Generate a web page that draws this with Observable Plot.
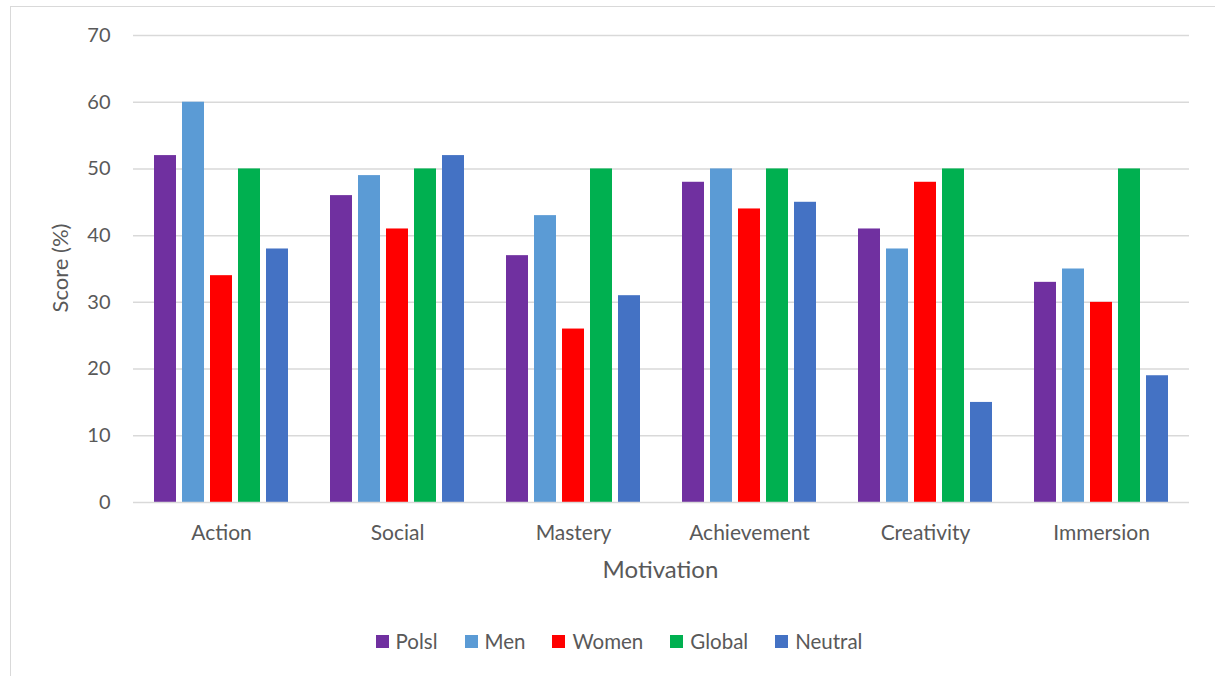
<!DOCTYPE html>
<html>
<head>
<meta charset="utf-8">
<script src="https://cdn.jsdelivr.net/npm/d3@7"></script>
<script src="https://cdn.jsdelivr.net/npm/@observablehq/plot@0.6"></script>
<style>
  html, body { margin: 0; padding: 0; background: #fff; overflow: hidden; }
  #wrap { position: relative; width: 1215px; height: 676px; font-family: Lato, "Open Sans", sans-serif; }
  #frame { position: absolute; left: 10px; top: 6px; width: 1300px; height: 800px; border: 1.5px solid #d9d9d9; box-sizing: border-box; }
  #chart { position: absolute; left: 0; top: 0; }
  #legend { position: absolute; top: 629px; left: 0; width: 1238px; display: flex; justify-content: center; gap: 27px; font-size: 20.5px; color: #595959; }
  #legend .item { display: flex; align-items: center; gap: 7px; }
  #legend .sw { width: 13px; height: 13px; display: inline-block; }
</style>
</head>
<body>
<div id="wrap">
  <div id="frame"></div>
  <div id="chart"></div>
  <div id="legend"></div>
</div>
<script>
const categories = ["Action", "Social", "Mastery", "Achievement", "Creativity", "Immersion"];
const seriesNames = ["Polsl", "Men", "Women", "Global", "Neutral"];
const polsl   = [52, 46, 37, 48, 41, 33];
const men     = [60, 49, 43, 50, 38, 35];
const women   = [34, 41, 26, 44, 48, 30];
const global  = [50, 50, 50, 50, 50, 50];
const neutral = [38, 52, 31, 45, 15, 19];
const yTicks = [0, 10, 20, 30, 40, 50, 60, 70];
const colors = ["#7030A0", "#5B9BD5", "#FF0000", "#00B050", "#4472C4"];

const seriesValues = [polsl, men, women, global, neutral];
const data = [];
categories.forEach((c, i) => {
  seriesNames.forEach((s, j) => {
    data.push({motivation: c, series: s, value: seriesValues[j][i]});
  });
});

const chart = Plot.plot({
  width: 1215,
  height: 600,
  marginLeft: 130,
  marginRight: 24,
  marginTop: 35,
  marginBottom: 98,
  style: {fontFamily: "Lato, 'Open Sans', sans-serif", fontSize: "21px", color: "#595959", background: "transparent"},
  fx: {domain: categories, padding: 0, label: null, axis: "bottom", tickSize: 0, tickPadding: 23},
  x: {domain: seriesNames, paddingInner: 0.2, paddingOuter: 0.74, axis: null},
  y: {domain: [0, 70], ticks: yTicks, label: null, axis: null},
  color: {domain: seriesNames, range: colors},
  marks: [
    Plot.ruleY(yTicks.filter(d => d > 0), {stroke: "#d9d9d9", strokeWidth: 1.5}),
    Plot.barY(data, {fx: "motivation", x: "series", y: "value", fill: "series"}),
    Plot.ruleY([0], {stroke: "#d9d9d9", strokeWidth: 1.5}),
    Plot.axisY(yTicks, {tickSize: 0, tickPadding: 23, fontSize: 20, fill: "#595959", label: null})
  ]
});
document.getElementById("chart").appendChild(chart);

// axis titles as SVG text
const svg = d3.select(chart);
svg.append("text")
  .attr("x", (130 + 1191) / 2).attr("y", 572)
  .attr("text-anchor", "middle").attr("dominant-baseline", "middle")
  .attr("font-size", 24).attr("fill", "#595959")
  .text("Motivation");
svg.append("text")
  .attr("transform", "translate(62,268) rotate(-90)")
  .attr("text-anchor", "middle").attr("dominant-baseline", "middle")
  .attr("font-size", 22).attr("fill", "#595959")
  .text("Score (%)");

const legend = document.getElementById("legend");
seriesNames.forEach((s, i) => {
  const item = document.createElement("div");
  item.className = "item";
  const sw = document.createElement("span");
  sw.className = "sw";
  sw.style.background = colors[i];
  const t = document.createElement("span");
  t.textContent = s;
  item.appendChild(sw);
  item.appendChild(t);
  legend.appendChild(item);
});
</script>
</body>
</html>
